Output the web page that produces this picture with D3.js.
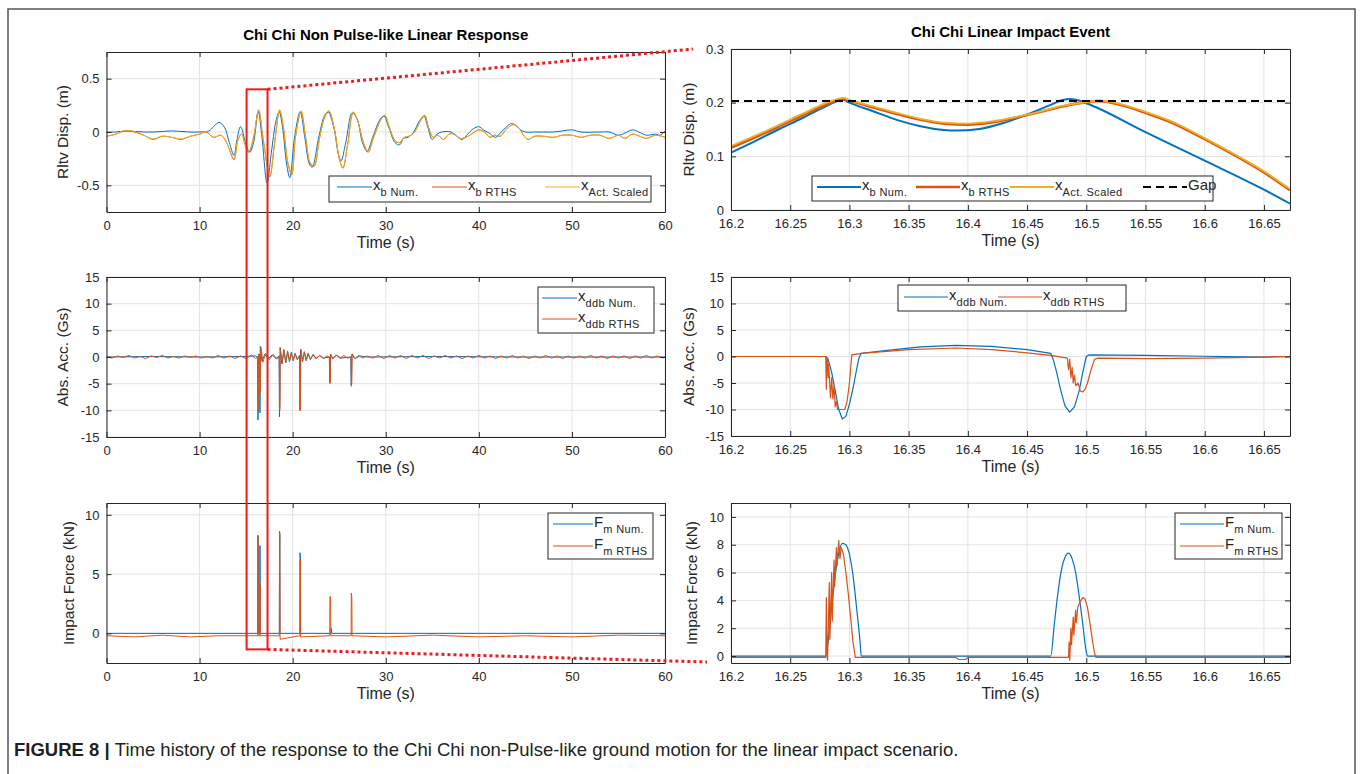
<html>
<head>
<meta charset="utf-8">
<style>
  body { margin: 0; background: #fff; }
  text { font-family: "Liberation Sans", Arial, sans-serif; fill: #262626; }
  .tick text { font-size: 13px; }
  .axlabel { font-size: 16px; }
  .ylab { font-size: 15.5px; }
  .title { font-size: 15px; font-weight: bold; fill: #000; }
  .legend text { font-size: 15px; }
  .legend .sub { font-size: 11px; letter-spacing: 0.4px; }
  .caption { font-size: 18.5px; fill: #231f20; }
</style>
</head>
<body>
<svg width="1360" height="774"></svg>
<script src="https://d3js.org/d3.v7.min.js"></script>
<script>
// ---- data ----
var dispNumLeft = [[0,0],[1,0],[2,0.01],[3,0.005],[4,0],[5,0],[6,0.005],[7,0.01],[8,0.005],[9,0],[10,0],[11,0.01],[11.5,0.05],[12.1,0.09],[12.7,0.04],[13.2,-0.1],[13.7,-0.22],[14.0,-0.08],[14.4,0.05],[15.0,-0.12],[15.4,-0.19],[15.8,-0.1],[16.3,0.19],[16.7,-0.05],[17.25,-0.48],[17.7,-0.2],[18.2,0.1],[18.55,0.19],[18.9,0.05],[19.35,-0.3],[19.7,-0.43],[20.2,-0.05],[20.8,0.19],[21.3,-0.05],[21.8,-0.3],[22.1,-0.33],[22.8,-0.05],[23.4,0.15],[23.8,0.19],[24.4,0.05],[24.9,-0.2],[25.2,-0.27],[25.7,-0.1],[26.4,0.18],[26.9,0.13],[27.5,-0.1],[28.0,-0.18],[28.6,-0.05],[29.4,0.12],[29.8,0.15],[30.3,0.05],[31.0,-0.1],[31.5,-0.12],[31.9,-0.06],[32.4,-0.05],[33,0],[33.6,0.1],[34.1,0.15],[34.5,0.05],[35.0,-0.07],[35.5,-0.02],[36,0],[37,0],[37.5,-0.03],[38.2,-0.07],[38.8,-0.02],[39.4,0.03],[40,0.05],[40.5,0.02],[41.1,-0.01],[41.8,-0.05],[42.4,0],[43,0.05],[43.5,0.08],[44,0.06],[44.5,0.02],[45,0],[46,0],[47,0],[48,0],[49,0.01],[50,0.02],[51,0],[53,0],[54,0],[55,-0.03],[55.7,-0.01],[56.5,0.02],[57.2,0],[58,-0.03],[59,-0.02],[59.5,-0.03],[60,0.01]];
var dispRthsLeft = [[0,-0.04],[1,-0.02],[2,0.01],[3,0],[4,-0.03],[5,-0.07],[6,-0.04],[7,-0.05],[8,-0.07],[9,-0.04],[10,-0.02],[10.7,0],[11.5,-0.05],[12.3,-0.03],[12.9,-0.1],[13.7,-0.26],[14.1,-0.08],[14.5,-0.02],[15.0,-0.15],[15.3,-0.19],[15.8,-0.05],[16.35,0.2],[16.8,-0.05],[17.55,-0.42],[18.0,-0.15],[18.6,0.2],[19.0,0.05],[19.5,-0.3],[19.9,-0.4],[20.3,-0.05],[20.9,0.19],[21.4,-0.05],[21.9,-0.3],[22.3,-0.32],[22.9,-0.05],[23.5,0.15],[23.9,0.19],[24.5,0.02],[25.0,-0.25],[25.4,-0.34],[25.9,-0.12],[26.5,0.18],[27.0,0.1],[27.6,-0.1],[28.1,-0.19],[28.7,-0.05],[29.5,0.12],[29.9,0.15],[30.4,0.04],[31.0,-0.08],[31.5,-0.1],[32.0,-0.05],[32.5,-0.04],[33.1,0],[33.7,0.1],[34.2,0.15],[34.6,0.04],[35.1,-0.05],[35.6,-0.03],[36.2,-0.07],[36.8,-0.02],[37.4,-0.02],[38.0,-0.06],[38.6,-0.05],[39.2,-0.02],[40,0.02],[40.6,0],[41.2,-0.05],[41.7,-0.03],[42.3,-0.04],[42.9,0.02],[43.7,0.07],[44.3,0.04],[44.8,-0.03],[45.3,-0.07],[46,-0.04],[47,-0.04],[48,-0.05],[49,-0.03],[50,-0.03],[51,-0.05],[52,-0.03],[53,-0.03],[54,-0.06],[55,-0.03],[55.7,-0.06],[56.5,-0.02],[57.3,-0.04],[58,-0.06],[59,-0.03],[60,-0.05]];
var dispActLeft = [[0,-0.04],[1,-0.02],[2,0.015],[3,0.005],[4,-0.03],[5,-0.065],[6,-0.04],[7,-0.05],[8,-0.065],[9,-0.04],[10,-0.02],[10.7,0.005],[11.5,-0.05],[12.3,-0.03],[12.9,-0.1],[13.7,-0.25],[14.1,-0.08],[14.5,-0.02],[15.0,-0.14],[15.3,-0.18],[15.8,-0.05],[16.35,0.21],[16.8,-0.04],[17.55,-0.41],[18.0,-0.14],[18.6,0.21],[19.0,0.05],[19.5,-0.29],[19.9,-0.39],[20.3,-0.05],[20.9,0.2],[21.4,-0.05],[21.9,-0.29],[22.3,-0.31],[22.9,-0.05],[23.5,0.16],[23.9,0.2],[24.5,0.02],[25.0,-0.24],[25.4,-0.33],[25.9,-0.12],[26.5,0.19],[27.0,0.1],[27.6,-0.1],[28.1,-0.18],[28.7,-0.05],[29.5,0.12],[29.9,0.16],[30.4,0.04],[31.0,-0.08],[31.5,-0.1],[32.0,-0.05],[32.5,-0.04],[33.1,0],[33.7,0.1],[34.2,0.16],[34.6,0.04],[35.1,-0.05],[35.6,-0.03],[36.2,-0.07],[36.8,-0.02],[37.4,-0.02],[38.0,-0.06],[38.6,-0.05],[39.2,-0.02],[40,0.02],[40.6,0],[41.2,-0.05],[41.7,-0.03],[42.3,-0.04],[42.9,0.02],[43.7,0.07],[44.3,0.04],[44.8,-0.03],[45.3,-0.07],[46,-0.04],[47,-0.04],[48,-0.05],[49,-0.03],[50,-0.03],[51,-0.05],[52,-0.03],[53,-0.03],[54,-0.06],[55,-0.03],[55.7,-0.06],[56.5,-0.02],[57.3,-0.04],[58,-0.06],[59,-0.03],[60,-0.05]];

var accNumLeft = [[0,0],[5,0.1],[10,0],[15,0.1],[16.0,0.2],[16.24,0],[16.27,-11.8],[16.29,-10.5],[16.32,0.5],[16.46,0.5],[16.48,-10.5],[16.5,-6],[16.52,2.0],[16.7,-0.8],[17.0,0.5],[17.4,-0.3],[17.8,0.4],[18.2,-0.3],[18.54,0.2],[18.58,-11.2],[18.61,-9],[18.65,1.8],[18.85,-1.3],[19.05,1.4],[19.25,-1.1],[19.45,1.1],[19.65,-0.9],[19.85,0.9],[20.05,-0.7],[20.25,0.7],[20.5,-0.5],[20.74,0.3],[20.78,-10],[20.81,-8],[20.85,1.5],[21.05,-0.9],[21.25,1.0],[21.45,-0.7],[21.65,0.7],[21.9,-0.5],[22.2,0.5],[22.5,-0.3],[22.9,0.3],[23.3,-0.2],[23.94,0],[23.98,-4.8],[24.02,-4.5],[24.06,0.5],[24.3,-0.3],[24.7,0.3],[25.2,-0.2],[26.24,0],[26.28,-5.3],[26.32,-4.8],[26.36,0.5],[26.7,-0.3],[27.2,0.2],[28,0],[35,0.1],[45,0],[60,0]];
var accRthsLeft = [[0,0.1],[0.6,-0.2],[1.2,0.2],[1.8,-0.1],[2.4,0.3],[3,-0.2],[3.6,0.1],[4.2,-0.3],[4.8,0.2],[5.4,-0.1],[6,0.3],[6.6,-0.2],[7.2,0.1],[7.8,-0.2],[8.4,0.2],[9,-0.1],[9.6,0.2],[10.2,-0.2],[10.8,0.1],[11.4,-0.2],[12,0.3],[12.6,-0.2],[13.2,0.2],[13.8,-0.3],[14.4,0.2],[15,-0.3],[15.6,0.4],[16.0,-0.3],[16.27,0],[16.285,-10],[16.31,-9.5],[16.33,0.4],[16.48,0.1],[16.5,-6.7],[16.52,0.3],[16.6,1.8],[16.8,-1],[17.1,0.7],[17.5,-0.5],[17.9,0.5],[18.3,-0.4],[18.57,0.1],[18.61,-10],[18.64,-9],[18.68,1.6],[18.87,-1.2],[19.07,1.3],[19.27,-1.0],[19.47,1.0],[19.67,-0.8],[19.87,0.8],[20.07,-0.6],[20.27,0.6],[20.5,-0.4],[20.77,0.3],[20.81,-10],[20.84,-9],[20.88,1.4],[21.07,-0.8],[21.27,0.9],[21.47,-0.6],[21.67,0.6],[21.9,-0.4],[22.2,0.4],[22.5,-0.3],[22.9,0.3],[23.3,-0.3],[23.7,0.2],[23.97,0],[24.01,-5.0],[24.05,-4.6],[24.09,0.5],[24.3,-0.3],[24.7,0.4],[25.1,-0.3],[25.5,0.3],[25.9,-0.2],[26.27,0],[26.31,-5.5],[26.35,-5.0],[26.39,0.6],[26.7,-0.3],[27.1,0.3],[27.5,-0.2],[28,0.2],[28.6,-0.2],[29.2,0.3],[29.8,-0.3],[30.4,0.3],[31,-0.2],[31.6,0.3],[32.2,-0.3],[32.8,0.3],[33.4,-0.2],[34,0.3],[34.6,-0.3],[35.2,0.2],[35.8,-0.2],[36.4,0.3],[37,-0.2],[37.6,0.2],[38.2,-0.3],[38.8,0.2],[39.4,-0.2],[40,0.3],[40.6,-0.2],[41.2,0.2],[41.8,-0.3],[42.4,0.2],[43,-0.2],[43.6,0.3],[44.2,-0.2],[44.8,0.2],[45.4,-0.3],[46,0.2],[46.6,-0.2],[47.2,0.3],[47.8,-0.2],[48.4,0.2],[49,-0.3],[49.6,0.2],[50.2,-0.2],[50.8,0.2],[51.4,-0.2],[52,0.3],[52.6,-0.2],[53.2,0.2],[53.8,-0.3],[54.4,0.2],[55,-0.2],[55.6,0.2],[56.2,-0.3],[56.8,0.2],[57.4,-0.2],[58,0.3],[58.6,-0.2],[59.2,0.2],[59.8,-0.2],[60,0]];

var forceNumLeft = [[0,0],[16.26,0],[16.28,8.2],[16.3,7.5],[16.32,0],[16.46,0],[16.48,7.4],[16.5,7.0],[16.52,0],[18.57,0],[18.59,8.6],[18.62,8.2],[18.64,0],[20.77,0],[20.79,6.8],[20.83,6.4],[20.85,0],[24.1,0],[24.15,0.4],[24.2,0],[60,0]];
var forceRthsLeft = [[0,-0.2],[3,-0.3],[6,-0.15],[9,-0.3],[12,-0.2],[16.25,-0.2],[16.27,8.3],[16.29,7.6],[16.31,-0.2],[16.48,-0.2],[16.5,4.2],[16.52,-0.2],[18.57,-0.2],[18.59,7.0],[18.61,8.5],[18.63,8.0],[18.65,-0.5],[20.79,-0.2],[20.81,6.2],[20.84,5.3],[20.86,-0.3],[23.98,-0.2],[24.0,3.1],[24.08,3.1],[24.1,-0.2],[26.28,-0.2],[26.3,3.4],[26.36,3.0],[26.38,-0.2],[30,-0.3],[35,-0.15],[40,-0.3],[45,-0.2],[50,-0.3],[55,-0.15],[60,-0.2]];

var dispNumRight = [[16.2,0.107],[16.22,0.128],[16.24,0.15],[16.26,0.171],[16.28,0.193],[16.29,0.203],[16.295,0.205],[16.3,0.2],[16.32,0.184],[16.34,0.168],[16.36,0.156],[16.38,0.149],[16.39,0.148],[16.41,0.151],[16.43,0.162],[16.45,0.178],[16.47,0.196],[16.48,0.205],[16.486,0.207],[16.492,0.205],[16.5,0.199],[16.55,0.145],[16.6,0.092],[16.65,0.038],[16.672,0.012]];
var dispRthsRight = [[16.2,0.116],[16.22,0.135],[16.24,0.155],[16.26,0.176],[16.28,0.196],[16.29,0.205],[16.295,0.207],[16.3,0.204],[16.32,0.191],[16.34,0.179],[16.36,0.168],[16.38,0.161],[16.4,0.159],[16.42,0.163],[16.44,0.172],[16.46,0.182],[16.48,0.193],[16.5,0.201],[16.51,0.203],[16.53,0.195],[16.55,0.181],[16.57,0.165],[16.6,0.132],[16.63,0.096],[16.65,0.07],[16.672,0.037]];
var dispActRight = [[16.2,0.119],[16.22,0.138],[16.24,0.158],[16.26,0.179],[16.28,0.199],[16.29,0.207],[16.295,0.209],[16.3,0.205],[16.32,0.193],[16.34,0.181],[16.36,0.17],[16.38,0.163],[16.4,0.161],[16.42,0.165],[16.44,0.173],[16.46,0.183],[16.48,0.194],[16.5,0.201],[16.51,0.204],[16.53,0.197],[16.55,0.183],[16.57,0.167],[16.6,0.134],[16.63,0.098],[16.65,0.072],[16.672,0.039]];
var gapValue = 0.203;

var accNumRight = [[16.2,0],[16.28,0],[16.282,-0.5],[16.285,-3],[16.288,-6.5],[16.291,-10],[16.294,-11.8],[16.297,-11.3],[16.3,-9],[16.303,-6],[16.306,-2.5],[16.308,-0.3],[16.31,0.6],[16.33,1.1],[16.36,1.8],[16.39,2.1],[16.42,1.9],[16.45,1.3],[16.47,0.6],[16.472,-0.5],[16.475,-3],[16.478,-6],[16.482,-9.3],[16.486,-10.5],[16.49,-9.5],[16.494,-6.5],[16.497,-3],[16.5,0],[16.502,0.3],[16.55,0.2],[16.6,0.05],[16.65,-0.1],[16.672,0]];
var accRthsRight = [[16.2,0],[16.28,0],[16.2805,-6.2],[16.281,-0.3],[16.2815,-0.3],[16.282,-4],[16.2825,-1.5],[16.284,-7.8],[16.285,-4],[16.286,-8],[16.287,-5.5],[16.288,-9.5],[16.289,-8.5],[16.29,-10],[16.296,-10],[16.298,-8.5],[16.3,-5],[16.302,0.3],[16.31,0.6],[16.35,1.3],[16.39,1.6],[16.42,1.3],[16.45,0.7],[16.47,0.2],[16.484,-0.3],[16.485,-2.5],[16.486,-0.5],[16.487,-4],[16.488,-2],[16.489,-5],[16.49,-3.5],[16.491,-5.5],[16.493,-5],[16.495,-6.5],[16.497,-6.7],[16.499,-6.2],[16.501,-5],[16.504,-2.5],[16.507,-0.5],[16.51,-0.3],[16.55,-0.4],[16.6,-0.3],[16.65,-0.1],[16.672,0]];

var forceNumRight = [[16.2,0],[16.28,0],[16.282,1],[16.285,3.5],[16.288,5.8],[16.291,7.4],[16.294,8.1],[16.297,8.0],[16.3,7.3],[16.303,5.8],[16.306,3.5],[16.309,1],[16.31,0],[16.47,0],[16.473,2.3],[16.476,4.5],[16.479,6.2],[16.482,7.1],[16.485,7.4],[16.488,7.0],[16.491,6.0],[16.494,4.3],[16.497,2.3],[16.5,0.3],[16.501,0],[16.672,0]];
var forceRthsRight = [[16.2,-0.1],[16.28,-0.1],[16.2805,4.2],[16.281,0.5],[16.2815,-0.3],[16.283,5.3],[16.2835,1.2],[16.285,6.0],[16.2855,2.5],[16.287,6.9],[16.2875,5.0],[16.289,7.8],[16.2895,6.5],[16.291,8.3],[16.292,7.0],[16.293,7.8],[16.295,7.3],[16.297,6.0],[16.299,4.5],[16.301,2.8],[16.303,1.0],[16.305,-0.1],[16.39,-0.1],[16.392,-0.25],[16.398,-0.25],[16.4,-0.1],[16.485,-0.1],[16.4855,1.0],[16.486,-0.3],[16.487,2.0],[16.4875,0.8],[16.489,2.8],[16.4895,1.5],[16.491,3.3],[16.4915,2.4],[16.493,3.6],[16.495,3.9],[16.497,4.2],[16.499,4.1],[16.501,3.5],[16.503,2.4],[16.505,1.2],[16.507,0.2],[16.508,-0.1],[16.672,-0.1]];

var leftTimeTicks = [0, 10, 20, 30, 40, 50, 60];
var rightTimeTicks = [16.2, 16.25, 16.3, 16.35, 16.4, 16.45, 16.5, 16.55, 16.6, 16.65];
var dispTicksLeft = [-0.5, 0, 0.5];
var dispTicksRight = [0, 0.1, 0.2, 0.3];
var accTicks = [-15, -10, -5, 0, 5, 10, 15];
var forceTicksLeft = [0, 5, 10];
var forceTicksRight = [0, 2, 4, 6, 8, 10];
var zoomWindow = [15.05, 17.3];   // time span of the red box

var BLUE = "#0072BD", ORANGE = "#D95319", YELLOW = "#EDB120";

var svg = d3.select("svg");
var fmt = function (d) { return String(+d.toFixed(2)); };
var clipId = 0;

function panel(cfg) {
  var g = svg.append("g");
  var x = d3.scaleLinear().domain(cfg.xDomain).range([cfg.left, cfg.right]);
  var y = d3.scaleLinear().domain(cfg.yDomain).range([cfg.bottom, cfg.top]);

  g.selectAll(".gx").data(cfg.xTicks).join("line")
    .attr("x1", function (d) { return x(d); }).attr("x2", function (d) { return x(d); })
    .attr("y1", cfg.top).attr("y2", cfg.bottom)
    .attr("stroke", "#e3e3e3").attr("stroke-width", 1);
  g.selectAll(".gy").data(cfg.yTicks).join("line")
    .attr("y1", function (d) { return y(d); }).attr("y2", function (d) { return y(d); })
    .attr("x1", cfg.left).attr("x2", cfg.right)
    .attr("stroke", "#e3e3e3").attr("stroke-width", 1);

  var id = "clip" + (clipId++);
  svg.append("clipPath").attr("id", id).append("rect")
    .attr("x", cfg.left).attr("y", cfg.top)
    .attr("width", cfg.right - cfg.left).attr("height", cfg.bottom - cfg.top);
  var plot = g.append("g").attr("clip-path", "url(#" + id + ")");

  cfg.series.forEach(function (s) {
    var line = d3.line().x(function (d) { return x(d[0]); }).y(function (d) { return y(d[1]); })
      .curve(s.curve || d3.curveLinear);
    plot.append("path").datum(s.data).attr("d", line)
      .attr("fill", "none").attr("stroke", s.color).attr("stroke-width", s.width || 1)
      .attr("stroke-dasharray", s.dash || null).attr("stroke-linejoin", "round");
  });

  g.append("g").attr("transform", "translate(0," + cfg.bottom + ")")
    .call(d3.axisBottom(x).tickValues(cfg.xTicks).tickFormat(fmt).tickSizeInner(-5).tickSizeOuter(0).tickPadding(9));
  g.append("g").attr("transform", "translate(0," + cfg.top + ")")
    .call(d3.axisTop(x).tickValues(cfg.xTicks).tickFormat("").tickSizeInner(-5).tickSizeOuter(0));
  g.append("g").attr("transform", "translate(" + cfg.left + ",0)")
    .call(d3.axisLeft(y).tickValues(cfg.yTicks).tickFormat(fmt).tickSizeInner(-5).tickSizeOuter(0).tickPadding(7));
  g.append("g").attr("transform", "translate(" + cfg.right + ",0)")
    .call(d3.axisRight(y).tickValues(cfg.yTicks).tickFormat("").tickSizeInner(-5).tickSizeOuter(0));
  g.selectAll(".domain").attr("stroke", "#262626");
  g.selectAll(".tick line").attr("stroke", "#262626");
  g.selectAll(".tick text").attr("fill", "#262626");
  g.selectAll("g").attr("font-family", null).attr("font-size", null);

  var cx = (cfg.left + cfg.right) / 2;
  g.append("text").attr("class", "axlabel").attr("x", cx).attr("y", cfg.bottom + 36)
    .attr("text-anchor", "middle").text("Time (s)");
  g.append("text").attr("class", "ylab")
    .attr("transform", "translate(" + cfg.ylabelX + "," + ((cfg.top + cfg.bottom) / 2) + ") rotate(-90)")
    .attr("text-anchor", "middle").text(cfg.ylabel);
  if (cfg.title) {
    g.append("text").attr("class", "title").attr("x", cx).attr("y", cfg.top - 12)
      .attr("text-anchor", "middle").text(cfg.title);
  }

  // legend
  var L = cfg.legend;
  var lg = g.append("g").attr("class", "legend");
  lg.append("rect").attr("x", L.x).attr("y", L.y).attr("width", L.w).attr("height", L.h)
    .attr("fill", "#fff").attr("stroke", "#262626").attr("stroke-width", 1);
  cfg.series.forEach(function (s, i) {
    var pos = L.pos[i];
    var ex = L.x + pos[0], ey = L.y + pos[1];
    lg.append("line").attr("x1", ex).attr("x2", ex + L.sample).attr("y1", ey).attr("y2", ey)
      .attr("stroke", s.color).attr("stroke-width", s.width || 1).attr("stroke-dasharray", s.dash || null);
    var t = lg.append("text").attr("x", ex + L.sample + 1).attr("y", ey + 3);
    t.append("tspan").text(s.name);
    if (s.sub) t.append("tspan").attr("class", "sub").attr("dy", 6).text(s.sub);
  });
  return { x: x, y: y, cfg: cfg };
}

var LX = [106.5, 665], RX = [731, 1290];

var tl = panel({
  left: LX[0], right: LX[1], top: 52, bottom: 212, ylabelX: 68,
  xDomain: [0, 60], yDomain: [-0.75, 0.75], xTicks: leftTimeTicks, yTicks: dispTicksLeft,
  ylabel: "Rltv Disp. (m)", title: "Chi Chi Non Pulse-like Linear Response",
  series: [
    { data: dispNumLeft, color: BLUE, name: "x", sub: "b Num.", curve: d3.curveCatmullRom },
    { data: dispRthsLeft, color: ORANGE, name: "x", sub: "b RTHS", curve: d3.curveCatmullRom },
    { data: dispActLeft, color: YELLOW, name: "x", sub: "Act. Scaled", curve: d3.curveCatmullRom }
  ],
  legend: { x: 329, y: 176, w: 322, h: 26, sample: 35, pos: [[8, 11], [103, 11], [216, 11]] }
});

var ml = panel({
  left: LX[0], right: LX[1], top: 277, bottom: 437, ylabelX: 68,
  xDomain: [0, 60], yDomain: [-15, 15], xTicks: leftTimeTicks, yTicks: accTicks,
  ylabel: "Abs. Acc. (Gs)",
  series: [
    { data: accNumLeft, color: BLUE, name: "x", sub: "ddb Num." },
    { data: accRthsLeft, color: ORANGE, name: "x", sub: "ddb RTHS" }
  ],
  legend: { x: 538, y: 287, w: 116, h: 46, sample: 35, pos: [[4, 11], [4, 32]] }
});

var bl = panel({
  left: LX[0], right: LX[1], top: 503, bottom: 663, ylabelX: 74,
  xDomain: [0, 60], yDomain: [-2.5, 11], xTicks: leftTimeTicks, yTicks: forceTicksLeft,
  ylabel: "Impact Force (kN)",
  series: [
    { data: forceNumLeft, color: BLUE, name: "F", sub: "m Num." },
    { data: forceRthsLeft, color: ORANGE, name: "F", sub: "m RTHS" }
  ],
  legend: { x: 548, y: 513, w: 105, h: 46, sample: 40, pos: [[5, 11], [5, 33]] }
});

var tr = panel({
  left: RX[0], right: RX[1], top: 49, bottom: 210, ylabelX: 694,
  xDomain: [16.2, 16.672], yDomain: [0, 0.3], xTicks: rightTimeTicks, yTicks: dispTicksRight,
  ylabel: "Rltv Disp. (m)", title: "Chi Chi Linear Impact Event",
  series: [
    { data: dispNumRight, color: BLUE, width: 2, name: "x", sub: "b Num.", curve: d3.curveMonotoneX },
    { data: dispRthsRight, color: ORANGE, width: 2.6, name: "x", sub: "b RTHS", curve: d3.curveMonotoneX },
    { data: dispActRight, color: YELLOW, width: 1.8, name: "x", sub: "Act. Scaled", curve: d3.curveMonotoneX },
    { data: [[16.2, gapValue], [16.672, gapValue]], color: "#000", width: 2, dash: "8,5", name: "Gap" }
  ],
  legend: { x: 812, y: 176, w: 401, h: 25, sample: 44, pos: [[5, 11], [104, 11], [198, 11], [331, 11]] }
});

var mr = panel({
  left: RX[0], right: RX[1], top: 277, bottom: 436, ylabelX: 694,
  xDomain: [16.2, 16.672], yDomain: [-15, 15], xTicks: rightTimeTicks, yTicks: accTicks,
  ylabel: "Abs. Acc. (Gs)",
  series: [
    { data: accNumRight, color: BLUE, width: 1.2, name: "x", sub: "ddb Num." },
    { data: accRthsRight, color: ORANGE, width: 1.2, name: "x", sub: "ddb RTHS" }
  ],
  legend: { x: 898, y: 285, w: 228, h: 26, sample: 44, pos: [[6, 12], [100, 12]] }
});

var br = panel({
  left: RX[0], right: RX[1], top: 503, bottom: 663, ylabelX: 697,
  xDomain: [16.2, 16.672], yDomain: [-0.5, 11], xTicks: rightTimeTicks, yTicks: forceTicksRight,
  ylabel: "Impact Force (kN)",
  series: [
    { data: forceNumRight, color: BLUE, width: 1.2, name: "F", sub: "m Num.", curve: d3.curveMonotoneX },
    { data: forceRthsRight, color: ORANGE, width: 1.2, name: "F", sub: "m RTHS" }
  ],
  legend: { x: 1175, y: 513, w: 107, h: 46, sample: 44, pos: [[5, 11], [5, 33]] }
});

// red zoom box and the dotted guide lines to the right-hand panels
var bx0 = tl.x(zoomWindow[0]), bx1 = tl.x(zoomWindow[1]);
var by0 = tl.y(0.4), by1 = bl.y(-1.35);
svg.append("rect").attr("x", bx0).attr("y", by0).attr("width", bx1 - bx0).attr("height", by1 - by0)
  .attr("fill", "none").attr("stroke", "#ee1c1c").attr("stroke-width", 2);
svg.append("line").attr("x1", bx1).attr("y1", by0)
  .attr("x2", tr.x(16.2) - 38).attr("y2", tr.y(0.3))
  .attr("stroke", "#ee1c1c").attr("stroke-width", 3).attr("stroke-dasharray", "3,3");
svg.append("line").attr("x1", bx1).attr("y1", by1)
  .attr("x2", br.x(16.2) - 24).attr("y2", br.y(-0.5) - 1)
  .attr("stroke", "#ee1c1c").attr("stroke-width", 3).attr("stroke-dasharray", "3,3");

// outer frame and caption
svg.append("path").attr("d", "M8,780 V9 H1355 V780")
  .attr("fill", "none").attr("stroke", "#555").attr("stroke-width", 1.5);
var cap = svg.append("text").attr("class", "caption").attr("x", 14).attr("y", 756);
cap.append("tspan").attr("font-weight", "bold").text("FIGURE 8 | ");
cap.append("tspan").text("Time history of the response to the Chi Chi non-Pulse-like ground motion for the linear impact scenario.");
</script>
</body>
</html>
